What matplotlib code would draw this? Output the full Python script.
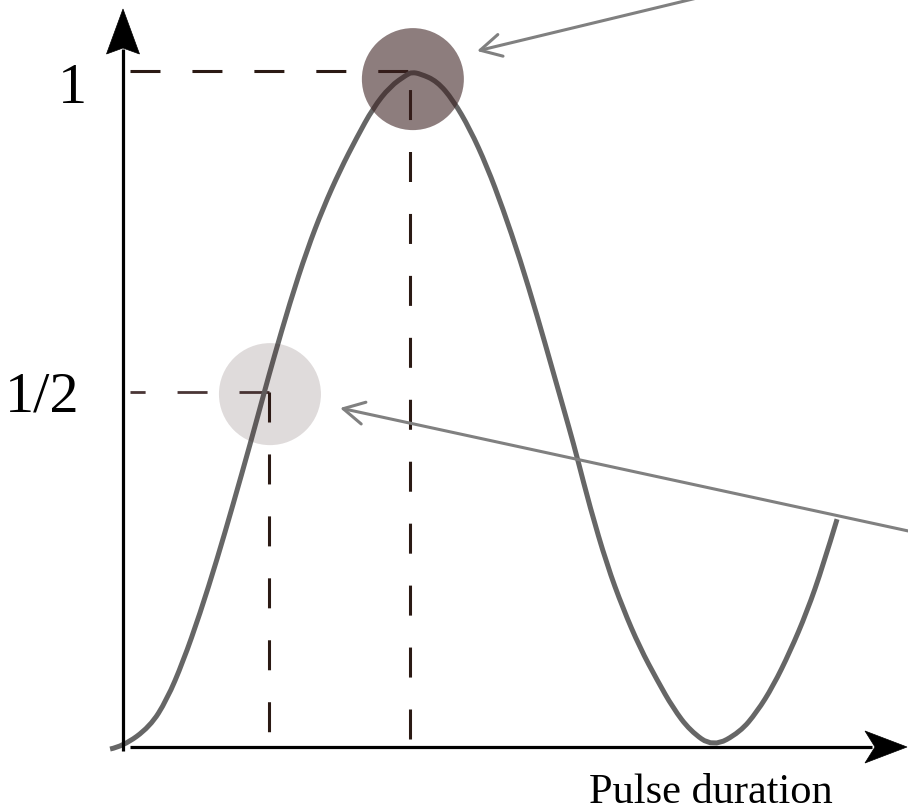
import matplotlib
matplotlib.use("Agg")
import matplotlib.pyplot as plt
import numpy as np
from matplotlib.patches import Polygon, Ellipse, PathPatch
from matplotlib.path import Path
from matplotlib.transforms import ScaledTranslation

plt.rcParams['lines.scale_dashes'] = False

# ---- data (t in units of the pi-pulse duration, p = excitation probability) ----
curve_t = [-0.045, 0.000, 0.094, 0.153, 0.209, 0.268, 0.328, 0.383, 0.443, 0.495,
           0.523, 0.582, 0.641, 0.697, 0.756, 0.815, 0.871, 0.930, 0.990, 1.007,
           1.035, 1.094, 1.150, 1.209, 1.268, 1.324, 1.383, 1.443, 1.498, 1.557,
           1.582, 1.627, 1.686, 1.742, 1.801, 1.861, 1.916, 1.976, 2.056, 2.150,
           2.209, 2.265, 2.324, 2.383, 2.439, 2.488]
curve_p = [-0.003, 0.001, 0.030, 0.070, 0.126, 0.197, 0.278, 0.358, 0.448, 0.529,
           0.572, 0.658, 0.735, 0.797, 0.853, 0.902, 0.945, 0.977, 0.995, 0.998,
           0.996, 0.985, 0.957, 0.914, 0.859, 0.796, 0.722, 0.638, 0.556, 0.468,
           0.429, 0.355, 0.270, 0.205, 0.147, 0.099, 0.058, 0.024, 0.000, 0.022,
           0.052, 0.090, 0.141, 0.200, 0.268, 0.337]

guide_t = [0.509, 1.000]          # pulse durations of the marked points
guide_p = [0.525, 1.000]          # probability levels of the marked points
guide_labels = ["1/2", "1"]
marker_t = [0.512, 1.010]
marker_p = [0.522, 0.988]
marker_alpha = [0.16, 0.58]
x_label = "Pulse duration"

# ---- figure ----
W, H, DPI = 908, 812, 100
fig = plt.figure(figsize=(W / DPI, H / DPI), dpi=DPI)
ax = fig.add_axes([0, 0, 1, 1])
px_t, px_p = 287.0, 676.0        # pixels per data unit
x0_px, y0_px = 123.0, 748.0      # pixel position of the origin
ax.set_xlim(-x0_px / px_t, (W - x0_px) / px_t)
ax.set_ylim(-(H - y0_px) / px_p, y0_px / px_p)
ax.axis('off')

dash_col = '#2b1a14'
dash_style = (0, (21.6, 23.0))
t_axis_start = 7 / px_t
p_bottom_dash = [0.022, 0.012]

# dashed guides
ax.plot([guide_t[0], t_axis_start], [guide_p[0], guide_p[0]], color='#4a3636',
        lw=2.0, linestyle=dash_style, zorder=2)
ax.plot([guide_t[0], guide_t[0]], [guide_p[0], p_bottom_dash[0]], color=dash_col,
        lw=2.2, linestyle=dash_style, zorder=2)
ax.plot([t_axis_start, guide_t[1]], [guide_p[1], guide_p[1]], color=dash_col,
        lw=2.2, linestyle=dash_style, zorder=2)
ax.plot([guide_t[1], guide_t[1]], [p_bottom_dash[1], guide_p[1]], color=dash_col,
        lw=2.2, linestyle=dash_style, zorder=2)

# smooth curve: quadratic Bezier segments using the read points as control points
pts = np.column_stack([curve_t, curve_p])
verts = [pts[0]]
codes = [Path.MOVETO]
for i in range(1, len(pts) - 1):
    mid = (pts[i] + pts[i + 1]) / 2
    verts += [pts[i], mid if i < len(pts) - 2 else pts[i + 1]]
    codes += [Path.CURVE3, Path.CURVE3]
ax.add_patch(PathPatch(Path(verts, codes), facecolor='none', edgecolor='#666666',
                       lw=3.6, zorder=3, capstyle='butt'))

# highlight circles (radius 51 px)
r_px = 51.0
for t, p, a in zip(marker_t, marker_p, marker_alpha):
    ax.add_patch(Ellipse((t, p), 2 * r_px / px_t, 2 * r_px / px_p,
                         facecolor='#3b2020', edgecolor='none', alpha=a, zorder=4))

# axes lines
tip_p = (y0_px - 10) / px_p
tip_t = (907 - x0_px) / px_t
ax.plot([0, 0], [-4 / px_p, tip_p - 40 / px_p], color='black', lw=2.3, zorder=5,
        solid_capstyle='butt')
ax.plot([t_axis_start, tip_t - 35 / px_t], [0, 0], color='black', lw=2.3, zorder=5,
        solid_capstyle='butt')


def arrow_head(xy, angle_deg, length=45, half_w=16.5, notch=6):
    v = np.array([[0, 0], [-length, half_w], [-length + notch, 0],
                  [-length, -half_w]]) / DPI
    a = np.deg2rad(angle_deg)
    R = np.array([[np.cos(a), -np.sin(a)], [np.sin(a), np.cos(a)]])
    v = v @ R.T
    tr = fig.dpi_scale_trans + ScaledTranslation(xy[0], xy[1], ax.transData)
    ax.add_patch(Polygon(v, closed=True, facecolor='black', edgecolor='black',
                         lw=0.5, transform=tr, zorder=6))


arrow_head((0, tip_p), 90, length=45, half_w=16.5, notch=6)
arrow_head((tip_t, 0), 0, length=42, half_w=16, notch=10)

# pointer arrows
arrow_kw = dict(arrowstyle='->,head_length=0.75,head_width=0.4', color='#808080',
                lw=2.2, shrinkA=0, shrinkB=0, mutation_scale=20)
ax.annotate('', xy=((477 - x0_px) / px_t, (y0_px - 52) / px_p),
            xytext=((780 - x0_px) / px_t, (y0_px + 21) / px_p),
            arrowprops=arrow_kw, zorder=7, annotation_clip=False)
ax.annotate('', xy=((340 - x0_px) / px_t, (y0_px - 409) / px_p),
            xytext=((950 - x0_px) / px_t, (y0_px - 541) / px_p),
            arrowprops=arrow_kw, zorder=7, annotation_clip=False)

# labels
serif = ['Liberation Serif', 'DejaVu Serif']
ax.text((72.5 - x0_px) / px_t, (y0_px - 103) / px_p, guide_labels[1],
        family=serif, fontsize=42, ha='center', va='baseline')
ax.text((42 - x0_px) / px_t, (y0_px - 412) / px_p, guide_labels[0],
        family=serif, fontsize=42, ha='center', va='baseline')
ax.text((711 - x0_px) / px_t, (y0_px - 803) / px_p, x_label,
        family=serif, fontsize=30.5, ha='center', va='baseline')

fig.savefig('out.png', dpi=DPI)
